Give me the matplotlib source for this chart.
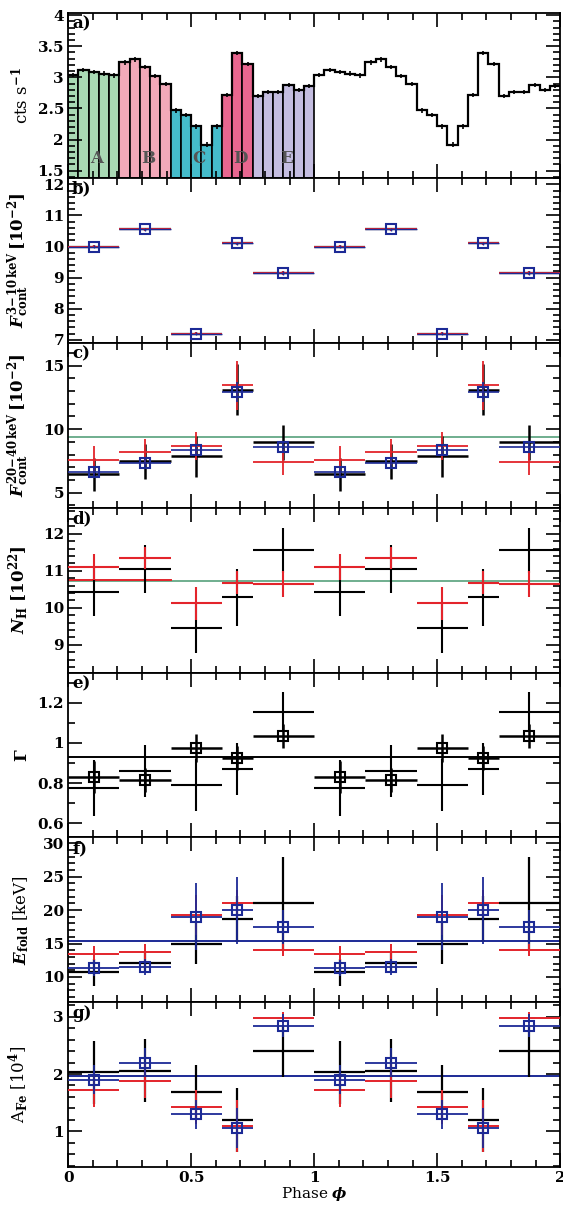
import numpy as np
import matplotlib.pyplot as plt
from matplotlib.ticker import MultipleLocator, FormatStrFormatter

plt.rcParams['font.family'] = ['DejaVu Serif']
plt.rcParams['font.weight'] = 'bold'
plt.rcParams['mathtext.fontset'] = 'dejavuserif'
plt.rcParams['font.size'] = 11

# pulse profile, 24 phase bins over one cycle
lc_rate = [3.04, 3.12, 3.09, 3.06, 3.03, 3.24, 3.29, 3.17, 3.02, 2.89,
           2.47, 2.39, 2.21, 1.92, 2.21, 2.72, 3.39, 3.22, 2.70, 2.76,
           2.76, 2.88, 2.80, 2.86]
lc_err = 0.035

# phase intervals A-E
region_edges = [0.0, 5 / 24, 10 / 24, 15 / 24, 18 / 24, 1.0]
region_names = ['A', 'B', 'C', 'D', 'E']
region_colors = ['#a9d9b4', '#f2a9b9', '#45bccb', '#e8668f', '#c4bde0']

# b) continuum flux 3-10 keV
fb_black = [10.0, 10.55, 7.2, 10.1, 9.15]
fb_red = [10.0, 10.55, 7.2, 10.1, 9.15]
fb_blue = [10.0, 10.55, 7.2, 10.1, 9.15]
fb_err = [0.05, 0.05, 0.05, 0.06, 0.05]

# c) continuum flux 20-40 keV
fc_black = [6.45, 7.45, 7.85, 13.1, 8.95]
fc_black_err = [1.3, 1.4, 1.6, 2.0, 1.35]
fc_red = [7.6, 8.2, 8.7, 13.45, 7.4]
fc_red_err = [1.1, 1.0, 1.1, 1.9, 1.0]
fc_blue = [6.6, 7.3, 8.35, 12.95, 8.6]
fc_blue_err = [0.4, 0.4, 0.5, 0.8, 0.5]
fc_const = 9.35

# d) absorption column
nh_black = [10.42, 11.05, 9.45, 10.28, 11.55]
nh_black_err = [0.65, 0.65, 0.68, 0.78, 0.6]
nh_red = [11.1, 11.35, 10.12, 10.68, 10.65]
nh_red_err = [0.35, 0.3, 0.45, 0.3, 0.35]
nh_const = 10.72

# e) photon index
gam_sq = [0.83, 0.815, 0.975, 0.925, 1.035]
gam_sq_err = [0.08, 0.06, 0.07, 0.06, 0.06]
gam_cross = [0.775, 0.86, 0.79, 0.87, 1.155]
gam_cross_err = [0.14, 0.13, 0.13, 0.13, 0.1]
gam_const = 0.93

# f) folding energy
ef_black = [10.7, 12.1, 15.0, 18.7, 21.0]
ef_black_err = [2.0, 1.5, 3.0, 3.4, 7.0]
ef_red = [13.5, 13.7, 19.3, 21.0, 14.1]
ef_red_err = [1.2, 1.3, 3.0, 2.0, 1.0]
ef_blue = [11.3, 11.5, 19.0, 20.0, 17.5]
ef_blue_err = [1.2, 1.2, 5.0, 5.0, 2.5]
ef_const = 15.35

# g) iron line normalisation
afe_black = [2.03, 2.06, 1.68, 1.2, 2.4]
afe_black_err = [0.55, 0.55, 0.47, 0.55, 0.45]
afe_red = [1.72, 1.88, 1.43, 1.09, 2.98]
afe_red_err = [0.3, 0.3, 0.3, 0.45, 0.1]
afe_blue = [1.9, 2.2, 1.3, 1.06, 2.84]
afe_blue_err = [0.25, 0.25, 0.25, 0.35, 0.2]
afe_const = 1.97

RED = '#e3242b'
BLUE = '#1c2a96'
GREEN = '#6fae8e'

edges = np.array(region_edges)
centers = 0.5 * (edges[1:] + edges[:-1])
halfw = 0.5 * np.diff(edges)
xc = np.concatenate([centers, centers + 1])
xw = np.concatenate([halfw, halfw])


def two(v):
    return np.concatenate([v, v])


def pts(ax, y, yerr, color, lw=1.6, square=False, z=3):
    ax.errorbar(xc, two(y), xerr=xw, yerr=two(yerr), fmt='s' if square else 'none',
                color=color, ecolor=color, elinewidth=lw, capsize=0,
                mfc='none', mec=color, mew=1.5, ms=7, zorder=z)


fig, axes = plt.subplots(7, 1, sharex=True, figsize=(5.63, 12.09), dpi=100)
fig.subplots_adjust(left=0.121, right=0.995, top=0.989, bottom=0.0347, hspace=0)

# a) pulse profile
ax = axes[0]
nb = len(lc_rate)
bw = 1.0 / nb
bin_lo = np.arange(nb) * bw
for i in range(len(region_names)):
    sel = (bin_lo >= edges[i] - 1e-9) & (bin_lo < edges[i + 1] - 1e-9)
    ax.bar(bin_lo[sel], np.array(lc_rate)[sel], width=bw, align='edge',
           color=region_colors[i], edgecolor='black', lw=1.2, zorder=1)
    ax.text(centers[i] + 0.012, 1.70, region_names[i], ha='center', va='center',
            color='#555555', fontsize=12)
rate2 = np.concatenate([lc_rate, lc_rate])
xs = np.arange(2 * nb + 1) * bw
ax.stairs(rate2, xs, color='black', lw=1.6, baseline=None, zorder=2)
ax.errorbar(xs[:-1] + bw / 2, rate2, yerr=lc_err, fmt='none', ecolor='black',
            elinewidth=1.2, capsize=0, zorder=3)
ax.set_ylim(1.38, 4.03)
ax.yaxis.set_major_locator(MultipleLocator(0.5))
ax.yaxis.set_minor_locator(MultipleLocator(0.1))
ax.yaxis.set_major_formatter(FormatStrFormatter('%g'))
ax.set_ylabel(r'cts s$^{-1}$', fontsize=12)

# b)
ax = axes[1]
pts(ax, fb_black, fb_err, 'black', lw=1.6)
pts(ax, fb_red, fb_err, RED, lw=1.4)
pts(ax, fb_blue, fb_err, BLUE, lw=1.0, square=True)
ax.set_ylim(6.9, 12.2)
ax.yaxis.set_major_locator(MultipleLocator(1))
ax.yaxis.set_minor_locator(MultipleLocator(0.2))
ax.set_ylabel(r'$F_{\rm cont}^{3\!-\!10\,\rm keV}\,[10^{-2}]$', fontsize=12)

# c)
ax = axes[2]
ax.axhline(fc_const, color=GREEN, lw=1.4, zorder=1)
pts(ax, fc_black, fc_black_err, 'black', lw=1.8)
pts(ax, fc_red, fc_red_err, RED, lw=1.3)
pts(ax, fc_blue, fc_blue_err, BLUE, lw=1.2, square=True)
ax.set_ylim(3.8, 16.8)
ax.yaxis.set_major_locator(MultipleLocator(5))
ax.yaxis.set_minor_locator(MultipleLocator(1))
ax.set_ylabel(r'$F_{\rm cont}^{20\!-\!40\,\rm keV}\,[10^{-2}]$', fontsize=12)

# d)
ax = axes[3]
ax.axhline(nh_const, color=GREEN, lw=1.4, zorder=1)
ax.plot([0, edges[2]], [nh_const + 0.03] * 2, color=RED, lw=1.4, zorder=1)
pts(ax, nh_black, nh_black_err, 'black', lw=1.5)
pts(ax, nh_red, nh_red_err, RED, lw=1.5)
ax.set_ylim(8.25, 12.7)
ax.yaxis.set_major_locator(MultipleLocator(1))
ax.yaxis.set_minor_locator(MultipleLocator(0.2))
ax.set_ylabel(r'$N_{\rm H}\ [10^{22}]$', fontsize=12)

# e)
ax = axes[4]
ax.axhline(gam_const, color='black', lw=1.4, zorder=1)
pts(ax, gam_cross, gam_cross_err, 'black', lw=1.5)
pts(ax, gam_sq, gam_sq_err, 'black', lw=1.8, square=True)
ax.set_ylim(0.53, 1.35)
ax.yaxis.set_major_locator(MultipleLocator(0.2))
ax.yaxis.set_minor_locator(MultipleLocator(0.1))
ax.yaxis.set_major_formatter(FormatStrFormatter('%g'))
ax.set_ylabel(r'$\Gamma$', fontsize=12)

# f)
ax = axes[5]
ax.axhline(ef_const, color=BLUE, lw=1.4, zorder=1)
pts(ax, ef_black, ef_black_err, 'black', lw=1.6)
pts(ax, ef_red, ef_red_err, RED, lw=1.4)
pts(ax, ef_blue, ef_blue_err, BLUE, lw=1.3, square=True)
ax.set_ylim(6.2, 30.9)
ax.yaxis.set_major_locator(MultipleLocator(5))
ax.yaxis.set_minor_locator(MultipleLocator(1))
ax.set_ylabel(r'$E_{\rm fold}$ [keV]', fontsize=12)

# g)
ax = axes[6]
ax.axhline(afe_const, color=BLUE, lw=1.4, zorder=1)
pts(ax, afe_black, afe_black_err, 'black', lw=1.6)
pts(ax, afe_red, afe_red_err, RED, lw=1.4)
pts(ax, afe_blue, afe_blue_err, BLUE, lw=1.3, square=True)
ax.set_ylim(0.38, 3.25)
ax.yaxis.set_major_locator(MultipleLocator(1))
ax.yaxis.set_minor_locator(MultipleLocator(0.2))
ax.set_ylabel(r'A$_{\rm Fe}$ [10$^4$]', fontsize=12)
ax.set_xlabel(r'Phase $\phi$', labelpad=0)

for ax, lab in zip(axes, 'abcdefg'):
    ax.set_xlim(0, 2)
    ax.xaxis.set_major_locator(MultipleLocator(0.5))
    ax.xaxis.set_minor_locator(MultipleLocator(0.1))
    ax.xaxis.set_major_formatter(FormatStrFormatter('%g'))
    ax.tick_params(which='both', direction='in', top=True, right=True, width=1.2)
    ax.tick_params(which='major', length=10, pad=3)
    ax.tick_params(which='minor', length=5)
    for s in ax.spines.values():
        s.set_linewidth(1.3)
    ax.text(0.008, 0.985, lab + ')', transform=ax.transAxes, ha='left', va='top',
            fontsize=12)
    ax.yaxis.set_label_coords(-0.075, 0.5)

fig.savefig('out.png', dpi=100)
